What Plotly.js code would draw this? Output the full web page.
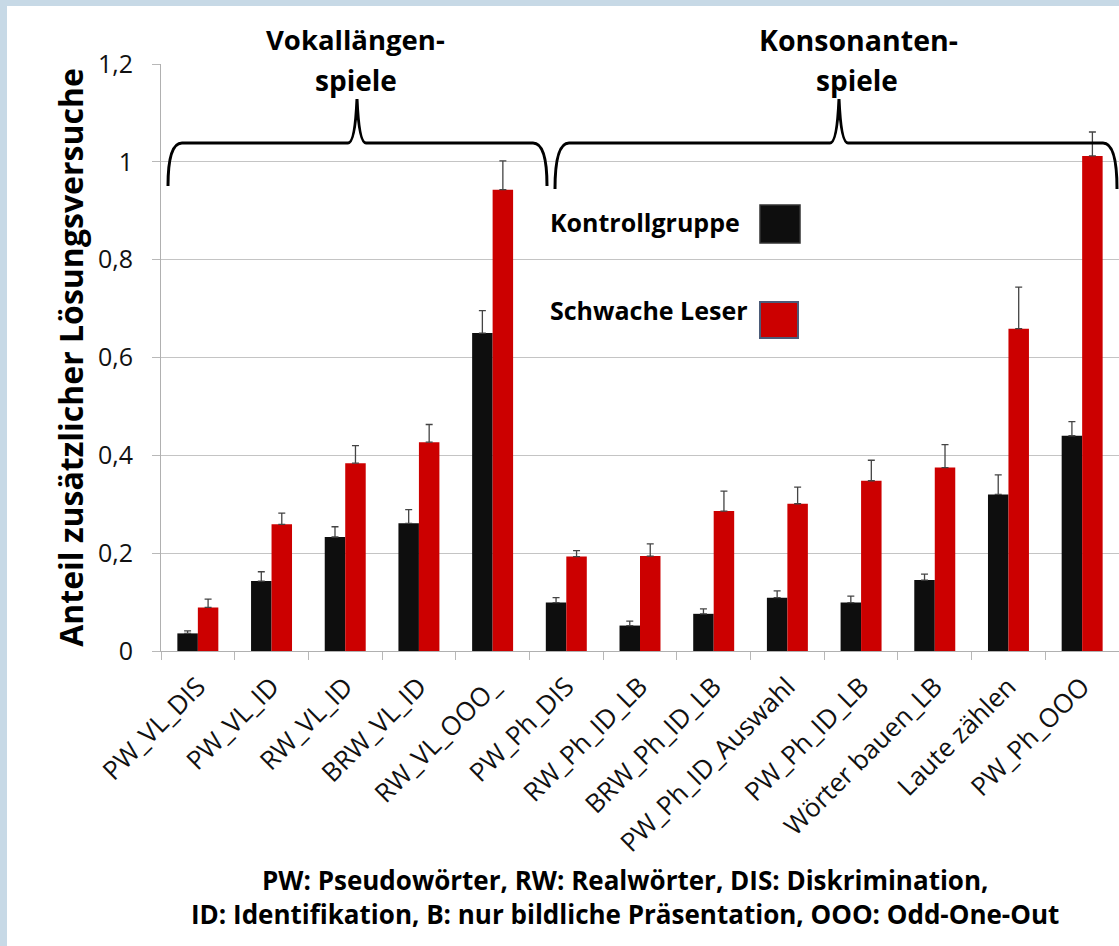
<!DOCTYPE html>
<html><head><meta charset="utf-8">
<script src="https://cdn.plot.ly/plotly-3.0.1.min.js"></script>
<style>
html,body{margin:0;padding:0;background:#c7d9e6;width:1119px;height:946px;overflow:hidden}
#chart{position:absolute;left:7px;top:6px;width:1112px;height:940px;background:#fff}
</style></head><body><div id="chart"></div>
<script>
// ---- data ----
const categories = ["PW_VL_DIS","PW_VL_ID","RW_VL_ID","BRW_VL_ID","RW_VL_OOO_","PW_Ph_DIS","RW_Ph_ID_LB","BRW_Ph_ID_LB","PW_Ph_ID_Auswahl","PW_Ph_ID_LB","Wörter bauen_LB","Laute zählen","PW_Ph_OOO"];
const kontrollgruppe = [0.036,0.143,0.233,0.261,0.650,0.099,0.052,0.076,0.109,0.099,0.145,0.320,0.440];
const kontrollErr    = [0.005,0.019,0.021,0.028,0.046,0.010,0.009,0.010,0.014,0.013,0.012,0.040,0.029];
const schwacheLeser  = [0.089,0.259,0.384,0.427,0.943,0.193,0.194,0.286,0.301,0.348,0.375,0.659,1.012];
const schwacheErr    = [0.017,0.023,0.036,0.036,0.059,0.012,0.025,0.041,0.034,0.042,0.047,0.085,0.049];
const seriesNames = ["Kontrollgruppe","Schwache Leser"];
const groupTitles = [["Vokallängen-","spiele"],["Konsonanten-","spiele"]];
const yTitle = "Anteil zusätzlicher Lösungsversuche";
const captionLines = ["PW: Pseudowörter, RW: Realwörter, DIS: Diskrimination,","ID: Identifikation, B: nur bildliche Präsentation, OOO: Odd-One-Out"];

// ---- geometry (page pixels -> paper) ----
const OFFX = 7, OFFY = 6, W = 1112, H = 940;
const mL = 154, mR = 0, mT = 58, mB = 295;
const PW = W - mL - mR, PH = H - mT - mB;
const px = x => (x - OFFX - mL) / PW;
const py = y => (H - mB - (y - OFFY)) / PH;
const zeros = categories.map(() => 0);

function bracePath(xl, xp, xr, yt, yb, ypk) {
  const p = (x, y) => px(x).toFixed(5) + ',' + py(y).toFixed(5);
  return 'M' + p(xl, yb) +
    ' C' + p(xl, yt + 20) + ' ' + p(xl + 3, yt) + ' ' + p(xl + 14, yt) +
    ' L' + p(xp - 9, yt) +
    ' Q' + p(xp - 2, yt) + ' ' + p(xp, ypk) +
    ' Q' + p(xp + 2, yt) + ' ' + p(xp + 9, yt) +
    ' L' + p(xr - 14, yt) +
    ' C' + p(xr - 3, yt) + ' ' + p(xr, yt + 20) + ' ' + p(xr, yb);
}

const FONT = '"Open Sans", sans-serif';

const traces = [
  {type:'bar', name: seriesNames[0], x: categories, y: kontrollgruppe,
   marker:{color:'#0e0e0e'},
   error_y:{type:'data', symmetric:false, array:kontrollErr, arrayminus:zeros, color:'#444', thickness:1.3, width:3.5}},
  {type:'bar', name: seriesNames[1], x: categories, y: schwacheLeser,
   marker:{color:'#cc0000'},
   error_y:{type:'data', symmetric:false, array:schwacheErr, arrayminus:zeros, color:'#444', thickness:1.3, width:3.5}}
];

const annotations = [];
function addText(txt, x, y, size, anchor, bold) {
  annotations.push({xref:'paper', yref:'paper', x:px(x), y:py(y), text: bold ? '<b>'+txt+'</b>' : txt,
    showarrow:false, xanchor:anchor, yanchor:'middle', font:{family:FONT, size:size, color:'#000'}});
}
addText(groupTitles[0][0], 355, 40, 27.5, 'center', true);
addText(groupTitles[0][1], 356, 80, 28, 'center', true);
addText(groupTitles[1][0], 858, 40, 28.5, 'center', true);
addText(groupTitles[1][1], 857, 80, 28, 'center', true);
addText(seriesNames[0], 548, 222, 25, 'left', true);
addText(seriesNames[1], 548, 310, 25, 'left', true);
addText(captionLines[0], 625, 880, 26, 'center', true);
addText(captionLines[1], 625, 914, 26, 'center', true);

const shapes = [
  {type:'path', xref:'paper', yref:'paper', path: bracePath(168, 357, 547, 143, 186, 99), line:{color:'#000', width:3}},
  {type:'path', xref:'paper', yref:'paper', path: bracePath(555, 839, 1117, 143, 189, 99), line:{color:'#000', width:3}},
  {type:'rect', xref:'paper', yref:'paper', x0:px(760), x1:px(800), y0:py(243), y1:py(205), fillcolor:'#0e0e0e', line:{color:'#333', width:1.5}},
  {type:'rect', xref:'paper', yref:'paper', x0:px(760), x1:px(798), y0:py(338), y1:py(302), fillcolor:'#cc0000', line:{color:'#4b5b78', width:2}}
];

const layout = {
  width: W, height: H,
  margin:{l:mL, r:mR, t:mT, b:mB, pad:0},
  paper_bgcolor:'#ffffff', plot_bgcolor:'#ffffff',
  separators: ',.',
  showlegend:false,
  barmode:'group', bargap:0.444, bargroupgap:0,
  font:{family:FONT, color:'#000'},
  xaxis:{type:'category', tickangle:-45, tickson:'boundaries', ticks:'outside', ticklen:8, tickcolor:'#b8b8b8',
    showline:true, linecolor:'#b0b0b0', linewidth:1, showgrid:false, automargin:false, ticklabelstandoff:9,
    tickfont:{family:FONT, size:26, color:'#111'}},
  yaxis:{range:[0,1.2], dtick:0.2, tick0:0, ticks:'outside', ticklen:8, tickcolor:'#b8b8b8',
    showline:true, linecolor:'#b0b0b0', linewidth:1, showgrid:true, gridcolor:'#c4c4c4', gridwidth:1,
    zeroline:false, automargin:false, ticklabelstandoff:14,
    tickfont:{family:FONT, size:25, color:'#111'},
    title:{text:'<b>'+yTitle+'</b>', font:{family:FONT, size:32, color:'#000'}, standoff:4}},
  annotations: annotations,
  shapes: shapes
};

Plotly.newPlot('chart', traces, layout, {displayModeBar:false, staticPlot:true});
</script></body></html>
